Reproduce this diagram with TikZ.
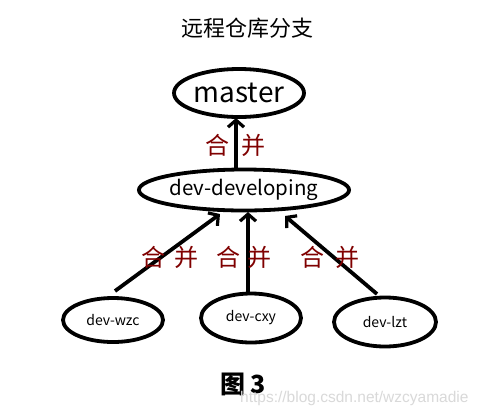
\documentclass[tikz,border=0pt]{standalone}
\usepackage{fontspec}
\setmainfont{Noto Sans CJK SC}
\newfontfamily\wmfont{Liberation Sans}
\usetikzlibrary{shapes.geometric,arrows.meta}
\definecolor{mergered}{RGB}{128,0,0}
\tikzset{
  branch/.style={ellipse, draw, line width=3.8pt, inner sep=0pt},
  merge/.style={line width=3.8pt, -{Straight Barb[length=7pt,width=16pt,line width=3.2pt]}},
  mergelabel/.style={text=mergered, font=\fontsize{24}{24}\selectfont, inner sep=0pt},
}
\begin{document}
\begin{tikzpicture}[x=1pt,y=-1pt]
\clip (0,0) rectangle (482,416);
\fill[white] (0,0) rectangle (482,416);
\node[font=\fontsize{22}{22}\selectfont] (title) at (247,28) {远程仓库分支};
\node[branch, minimum width=130pt, minimum height=48pt, font=\fontsize{28}{28}\selectfont] (master) at (239,93) {master};
\node[branch, minimum width=196pt, minimum height=41pt, font=\fontsize{20.5}{20.5}\selectfont] (dev) at (244,190) {dev-developing};
\node[branch, minimum width=100pt, minimum height=44pt, font=\fontsize{14}{14}\selectfont] (wzc) at (113,320) {dev-wzc};
\node[branch, minimum width=100pt, minimum height=49pt, font=\fontsize{14}{14}\selectfont] (cxy) at (251,318) {dev-cxy};
\node[branch, minimum width=102pt, minimum height=49pt, font=\fontsize{14}{14}\selectfont] (lzt) at (385,322) {dev-lzt};
\coordinate (mtop) at (236,118);
\coordinate (mbot) at (236,170);
\draw[merge] (mbot) -- (mtop);
\node[mergelabel] (l0) at (235,145) {合\hspace{12pt}并};
\coordinate (t1) at (220,214);
\coordinate (s1) at (115,291);
\coordinate (t2) at (248,212);
\coordinate (s2) at (248,292);
\coordinate (t3) at (285,216);
\coordinate (s3) at (377,294);
\draw[merge] (s1) -- (t1);
\draw[merge] (s2) -- (t2);
\draw[merge] (s3) -- (t3);
\node[mergelabel] (l1) at (170,257) {合\hspace{10pt}并};
\node[mergelabel] (l2) at (244,257) {合\hspace{8pt}并};
\node[mergelabel] (l3) at (330,257) {合\hspace{11pt}并};
\node[font=\fontsize{25}{25}\selectfont\bfseries] (fig) at (243,384) {图 3};
\node[anchor=west, text=gray!30, font=\wmfont\fontsize{15.5}{15.5}\selectfont, inner sep=0pt] (wm) at (240,398) {https://blog.csdn.net/wzcyamadie};
\end{tikzpicture}
\end{document}
